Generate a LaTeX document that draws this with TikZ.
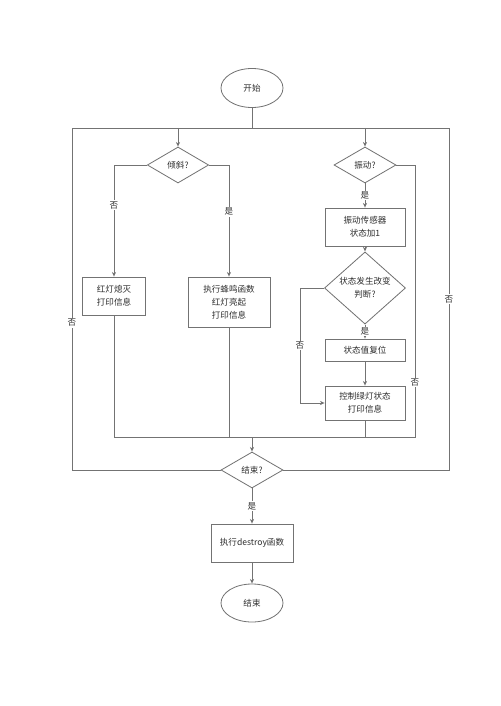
\documentclass[tikz,border=0pt]{standalone}
\usepackage{fontspec}
\setmainfont{Noto Sans CJK SC}
\usetikzlibrary{shapes.geometric,arrows.meta}
\definecolor{FlowLine}{RGB}{115,115,115}
\definecolor{FlowInk}{RGB}{45,45,45}

\begin{document}
\begin{tikzpicture}[x=0.03cm,y=-0.03cm,
  proc/.style={draw=FlowLine,line width=0.7pt,rectangle,inner sep=1pt,font=\fontsize{7.3}{11}\selectfont,text=FlowInk,align=center},
  term/.style={draw=FlowLine,line width=0.7pt,ellipse,inner sep=0pt,minimum width=1.86cm,minimum height=1.17cm,font=\fontsize{7.3}{11}\selectfont,text=FlowInk},
  decide/.style={draw=FlowLine,line width=0.7pt,diamond,inner sep=0pt,font=\fontsize{7.3}{11}\selectfont,text=FlowInk,align=center},
  lbl/.style={fill=white,inner sep=1pt,font=\fontsize{7.3}{9}\selectfont,text=FlowInk},
  line/.style={draw=FlowLine,line width=0.7pt},
  arr/.style={line,-{Stealth[length=4pt,width=3.6pt]}}]
  \useasboundingbox (0,0) rectangle (500,706);
  % nodes
  \node[term] (start) at (252,88) {开始};
  \node[decide,minimum width=1.84cm,minimum height=1.08cm] (tilt) at (178,165) {倾斜?};
  \node[decide,minimum width=1.86cm,minimum height=1.08cm] (vib) at (365,165) {振动?};
  \node[proc,minimum width=1.89cm,minimum height=1.14cm] (red) at (114,296) {红灯熄灭\\打印信息};
  \node[proc,minimum width=2.46cm,minimum height=1.5cm] (buzz) at (229,302) {执行蜂鸣函数\\红灯亮起\\打印信息};
  \node[proc,minimum width=2.4cm,minimum height=1.14cm] (sense) at (365,227) {振动传感器\\状态加1};
  \node[decide,minimum width=2.43cm,minimum height=1.68cm] (change) at (365,288) {状态发生改变\\判断?};
  \node[proc,minimum width=2.4cm,minimum height=0.66cm] (reset) at (365,350) {状态值复位};
  \node[proc,minimum width=2.4cm,minimum height=1.02cm] (green) at (365,403) {控制绿灯状态\\打印信息};
  \node[decide,minimum width=1.86cm,minimum height=1.08cm] (endq) at (252,470) {结束?};
  \node[proc,minimum width=2.46cm,minimum height=1.14cm] (destroy) at (252,543) {执行destroy函数};
  \node[term,minimum height=1.14cm] (stop) at (252,603) {结束};
  \coordinate (tl) at (72,128);
  \coordinate (tr) at (449,128);
  \coordinate (bus) at (252,128);
  \coordinate (join) at (252,437);
  \coordinate (nol) at (300,288);
  \coordinate (nor) at (415,437);
  % connectors
  \draw[line] (start) -- (bus);
  \draw[line] (endq.west) -| node[lbl,pos=0.715]{否} (tl) -- (tr) |- node[lbl,pos=0.25]{否} (endq.east);
  \draw[arr] (tilt.north |- tl) -- (tilt.north);
  \draw[arr] (vib.north |- tr) -- (vib.north);
  \draw[arr] (tilt.west) -| node[lbl,pos=0.68]{否} (red.north);
  \draw[arr] (tilt.east) -| node[lbl,pos=0.71]{是} (buzz.north);
  \draw[arr] (vib.south) -- node[lbl]{是} (sense.north);
  \draw[arr] (sense) -- (change);
  \draw[arr] (change.south) -- node[lbl]{是} (reset);
  \draw[arr] (reset) -- (green);
  \draw[arr] (change.west) -- (nol) |- node[lbl,pos=0.25]{否} (green.west);
  \draw[line] (red.south) |- (join);
  \draw[line] (buzz.south) -- (buzz.south |- join);
  \draw[line] (green.south) -- (green.south |- join);
  \draw[line] (vib.east) -| node[lbl,pos=0.9]{否} (nor) -- (join);
  \draw[arr] (join) -- (endq.north);
  \draw[arr] (endq.south) -- node[lbl]{是} (destroy);
  \draw[arr] (destroy) -- (stop);
\end{tikzpicture}
\end{document}
